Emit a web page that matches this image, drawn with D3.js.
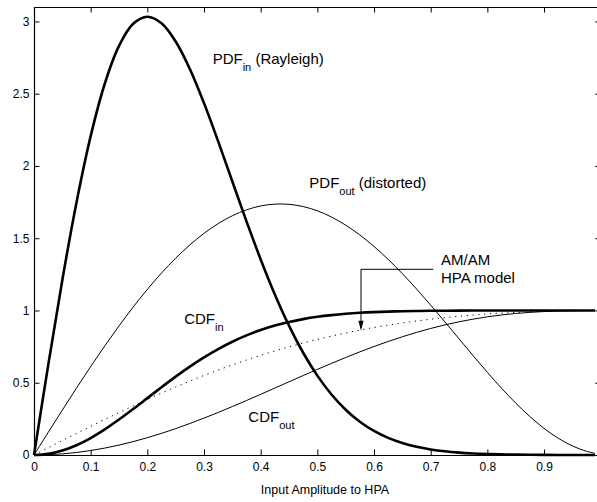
<!DOCTYPE html>
<html>
<head>
<meta charset="utf-8">
<script src="https://cdn.jsdelivr.net/npm/d3@7"></script>
<style>
  html, body { margin: 0; padding: 0; background: #fff; }
  svg { display: block; font-family: "Liberation Sans", Arial, Helvetica, sans-serif; }
</style>
</head>
<body>
<svg id="chart" width="597" height="502"></svg>
<script>
// ---- Data ----
const xs = [0, 0.025, 0.05, 0.075, 0.1, 0.125, 0.15, 0.175, 0.2, 0.225, 0.25, 0.275, 0.3, 0.325, 0.35, 0.375, 0.4, 0.425, 0.45, 0.475, 0.5, 0.525, 0.55, 0.575, 0.6, 0.625, 0.65, 0.675, 0.7, 0.725, 0.75, 0.775, 0.8, 0.825, 0.85, 0.875, 0.9, 0.925, 0.95, 0.975, 0.99];

const pdfIn = [0, 0.6201, 1.2115, 1.7477, 2.2063, 2.5706, 2.8307, 2.9836, 3.0327, 2.9874, 2.8614, 2.6714, 2.4349, 2.1699, 1.8924, 1.6165, 1.3534, 1.1113, 0.8951, 0.7075, 0.5493, 0.4187, 0.3134, 0.2306, 0.1667, 0.1184, 0.0827, 0.0567, 0.0383, 0.0254, 0.0166, 0.0106, 0.0067, 0.0042, 0.0025, 0.0015, 0.0008, 0.0004, 0.0002, 0.0001, 0];

const cdfIn = [0, 0.0078, 0.0308, 0.0679, 0.1175, 0.1774, 0.2452, 0.3180, 0.3935, 0.4689, 0.5422, 0.6114, 0.6753, 0.7329, 0.7837, 0.8276, 0.8647, 0.8954, 0.9204, 0.9404, 0.9561, 0.9681, 0.9772, 0.9840, 0.9889, 0.9924, 0.9949, 0.9966, 0.9978, 0.9986, 0.9991, 0.9995, 0.9997, 0.9998, 0.9999, 0.9999, 1, 1, 1, 1, 1];

const amam = [0, 0.0500, 0.0998, 0.1492, 0.1980, 0.2462, 0.2934, 0.3396, 0.3846, 0.4283, 0.4706, 0.5113, 0.5505, 0.5879, 0.6236, 0.6575, 0.6897, 0.7200, 0.7484, 0.7751, 0.8000, 0.8231, 0.8445, 0.8643, 0.8824, 0.8989, 0.9139, 0.9274, 0.9396, 0.9504, 0.9600, 0.9684, 0.9756, 0.9818, 0.9869, 0.9912, 0.9945, 0.9970, 0.9987, 0.9997, 1.0];

const pdfOut = [0, 0.1560, 0.3108, 0.4632, 0.6118, 0.7555, 0.8932, 1.0237, 1.1460, 1.2591, 1.3619, 1.4537, 1.5337, 1.6012, 1.6555, 1.6964, 1.7233, 1.7360, 1.7346, 1.7190, 1.6896, 1.6466, 1.5907, 1.5224, 1.4430, 1.3534, 1.2549, 1.1489, 1.0372, 0.9217, 0.8041, 0.6868, 0.5721, 0.4622, 0.3594, 0.2661, 0.1844, 0.1163, 0.0631, 0.0258, 0.0110];

const cdfOut = [0, 0.0020, 0.0078, 0.0175, 0.0309, 0.0480, 0.0687, 0.0926, 0.1198, 0.1498, 0.1826, 0.2179, 0.2552, 0.2944, 0.3352, 0.3771, 0.4199, 0.4632, 0.5066, 0.5498, 0.5924, 0.6341, 0.6746, 0.7136, 0.7507, 0.7856, 0.8182, 0.8483, 0.8756, 0.9001, 0.9217, 0.9403, 0.9561, 0.9690, 0.9792, 0.9870, 0.9926, 0.9964, 0.9986, 0.9997, 0.9999];

const xTicks = [0, 0.1, 0.2, 0.3, 0.4, 0.5, 0.6, 0.7, 0.8, 0.9];
const xTickLabels = ["0", "0.1", "0.2", "0.3", "0.4", "0.5", "0.6", "0.7", "0.8", "0.9"];
const yTicks = [0, 0.5, 1, 1.5, 2, 2.5, 3];
const yTickLabels = ["0", "0.5", "1", "1.5", "2", "2.5", "3"];
const xLabel = "Input Amplitude to HPA";

// annotation anchors in data units
const labels = [
  { main: "PDF", sub: "in", tail: " (Rayleigh)", x: 0.3153, y: 2.704 },
  { main: "PDF", sub: "out", tail: " (distorted)", x: 0.4858, y: 1.846 },
  { main: "CDF", sub: "in", tail: "", x: 0.2650, y: 0.907 },
  { main: "CDF", sub: "out", tail: "", x: 0.3782, y: 0.230 }
];
const amamLabel = ["AM/AM", "HPA model"];
const amamLabelPos = { x: 0.7182, y1: 1.315, y2: 1.192 };
const arrowPts = { xStart: 0.7046, yTop: 1.285, xTip: 0.577, yTip: 0.860 };

// ---- Chart ----
const svg = d3.select("#chart");
const x = d3.scaleLinear().domain([0, 1]).range([34, 600.7]);
const y = d3.scaleLinear().domain([0, 3.1]).range([455, 7]);

const tickFont = 12;
const g = svg.append("g");

// bottom axis
const axB = d3.axisBottom(x).tickValues(xTicks).tickFormat((d, i) => xTickLabels[i])
  .tickSizeInner(-5.5).tickSizeOuter(0).tickPadding(7.5);
g.append("g").attr("transform", `translate(0,${y(0)})`).call(axB);
// left axis
const axL = d3.axisLeft(y).tickValues(yTicks).tickFormat((d, i) => yTickLabels[i])
  .tickSizeInner(-5.5).tickSizeOuter(0).tickPadding(4.5);
g.append("g").attr("transform", `translate(${x(0)},0)`).call(axL);
// top axis (ticks only)
const axT = d3.axisTop(x).tickValues(xTicks.concat([1])).tickFormat("")
  .tickSizeInner(-5.5).tickSizeOuter(0);
g.append("g").attr("transform", `translate(0,${y(3.1)})`).call(axT);
// right axis (ticks only)
const axR = d3.axisRight(y).tickValues(yTicks).tickFormat("")
  .tickSizeInner(-5.5).tickSizeOuter(0);
g.append("g").attr("transform", `translate(${x(1)},0)`).call(axR);

g.selectAll(".domain").attr("stroke", "#000").attr("stroke-width", 1.2);
g.selectAll(".tick line").attr("stroke", "#000").attr("stroke-width", 1);
g.selectAll(".tick text").attr("font-size", tickFont).attr("fill", "#000")
  .attr("font-family", "'Liberation Sans', Arial, Helvetica, sans-serif");

// x label
svg.append("text").attr("x", 325).attr("y", 494)
  .attr("text-anchor", "middle").attr("font-size", 12.5).attr("fill", "#000")
  .text(xLabel);

// lines
const line = d3.line().x((d, i) => x(xs[i])).y(d => y(d)).curve(d3.curveCatmullRom.alpha(0.5));

function drawSeries(vals, width, dash) {
  const p = svg.append("path").datum(vals)
    .attr("d", line).attr("fill", "none").attr("stroke", "#000")
    .attr("stroke-width", width).attr("stroke-linejoin", "round");
  if (dash) p.attr("stroke-dasharray", dash);
  return p;
}
drawSeries(pdfOut, 1);
drawSeries(cdfOut, 1);
drawSeries(amam, 1, "1.2,4.6");
drawSeries(pdfIn, 2.6);
drawSeries(cdfIn, 2.6);

// text labels with subscripts
labels.forEach(l => {
  const t = svg.append("text").attr("x", x(l.x)).attr("y", y(l.y))
    .attr("font-size", 15).attr("fill", "#000");
  t.append("tspan").text(l.main);
  t.append("tspan").attr("font-size", 11).attr("dy", 7).text(l.sub);
  if (l.tail) t.append("tspan").attr("dy", -7).text(l.tail);
});

// AM/AM label
svg.append("text").attr("x", x(amamLabelPos.x)).attr("y", y(amamLabelPos.y1))
  .attr("font-size", 15).attr("fill", "#000").text(amamLabel[0]);
svg.append("text").attr("x", x(amamLabelPos.x)).attr("y", y(amamLabelPos.y2))
  .attr("font-size", 15).attr("fill", "#000").text(amamLabel[1]);

// arrow
const ax0 = x(arrowPts.xStart), ay0 = y(arrowPts.yTop), axT2 = x(arrowPts.xTip), ayT = y(arrowPts.yTip);
svg.append("path")
  .attr("d", d3.line()([[ax0, ay0], [axT2, ay0], [axT2, ayT - 8]]))
  .attr("fill", "none").attr("stroke", "#000").attr("stroke-width", 1);
svg.append("path")
  .attr("d", d3.line()([[axT2, ayT], [axT2 - 2.6, ayT - 10], [axT2 + 2.6, ayT - 10]]) + "Z")
  .attr("fill", "#000");
</script>
</body>
</html>
